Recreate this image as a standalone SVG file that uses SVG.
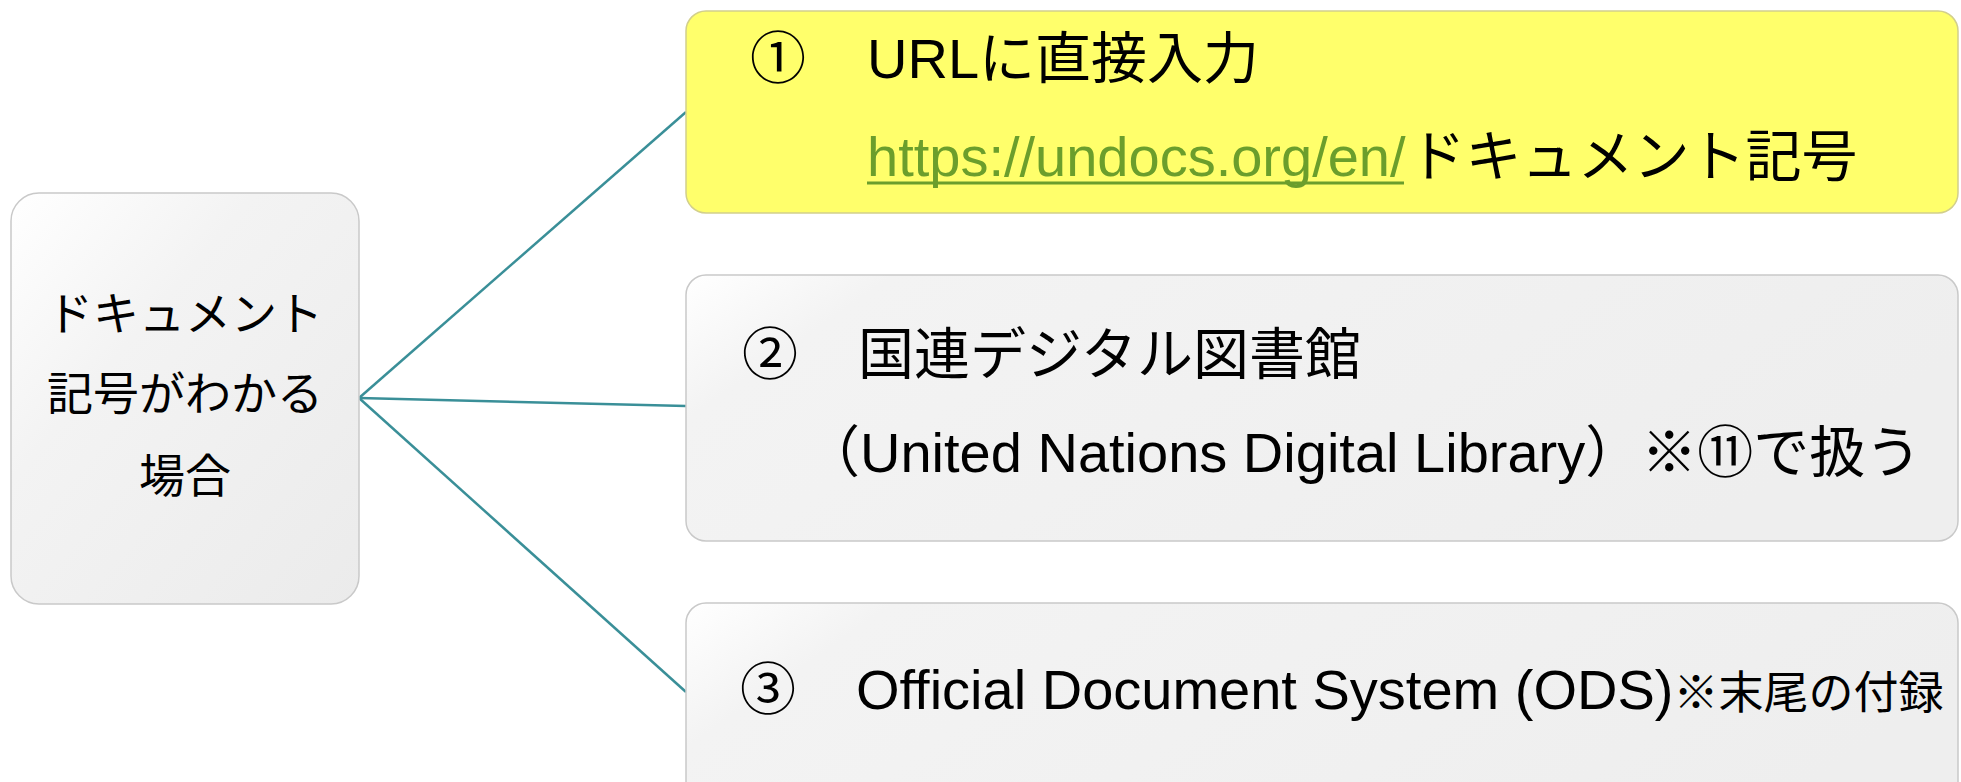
<svg xmlns="http://www.w3.org/2000/svg" width="1961" height="782" viewBox="0 0 1961 782">
<defs>
<linearGradient id="gGray" x1="0" y1="0" x2="1" y2="1">
<stop offset="0" stop-color="#ffffff"/>
<stop offset="0.35" stop-color="#f3f3f3"/>
<stop offset="1" stop-color="#ebebeb"/>
</linearGradient>
<linearGradient id="gWide" x1="0" y1="0" x2="1" y2="0.3">
<stop offset="0" stop-color="#ffffff"/>
<stop offset="0.15" stop-color="#f3f3f3"/>
<stop offset="1" stop-color="#eeeeee"/>
</linearGradient>
<style>
.box{fill:url(#gWide);stroke:#c9c9c9;stroke-width:1.5}
.t{font-family:"Liberation Sans","Noto Sans CJK JP",sans-serif;font-size:56px;fill:#000}
.conn{stroke:#3a8f98;stroke-width:2.5;fill:none}
</style>
</defs>
<rect width="1961" height="782" fill="#ffffff"/>
<g id="connectors">
<line class="conn" x1="359" y1="398" x2="686" y2="112"/>
<line class="conn" x1="359" y1="398" x2="686" y2="406"/>
<line class="conn" x1="359" y1="398" x2="686" y2="692"/>
</g>
<g id="node-root">
<rect x="11" y="193" width="348" height="411" rx="28" fill="url(#gGray)" stroke="#c9c9c9" stroke-width="1.5"/>
<text class="t" style="font-size:46px" text-anchor="middle" x="185" y="330">ドキュメント</text>
<text class="t" style="font-size:46px" text-anchor="middle" x="185" y="410">記号がわかる</text>
<text class="t" style="font-size:46px" text-anchor="middle" x="185" y="492">場合</text>
</g>
<g id="node-1">
<rect x="686" y="11" width="1272" height="202" rx="20" fill="#ffff6b" stroke="#d2cf8c" stroke-width="1.5"/>
<text class="t" x="750" y="78">①</text>
<text class="t" x="867" y="78">URLに直接入力</text>
<text class="t" x="867" y="176"><tspan fill="#6b9e2c">https://undocs.org/en/</tspan><tspan dx="4">ドキュメント記号</tspan></text>
<line x1="867" y1="183" x2="1404" y2="183" stroke="#6b9e2c" stroke-width="3"/>
</g>
<g id="node-2">
<rect class="box" x="686" y="275" width="1272" height="266" rx="20"/>
<text class="t" x="742" y="374">②</text>
<text class="t" x="858" y="374">国連デジタル図書館</text>
<text class="t" x="804" y="472">（United Nations Digital Library）※⑪で扱う</text>
</g>
<g id="node-3">
<rect class="box" x="686" y="603" width="1272" height="266" rx="20"/>
<text class="t" x="740" y="709">③</text>
<text class="t" x="856" y="709">Official Document System (ODS)<tspan style="font-size:45px">※末尾の付録</tspan></text>
</g>
</svg>
